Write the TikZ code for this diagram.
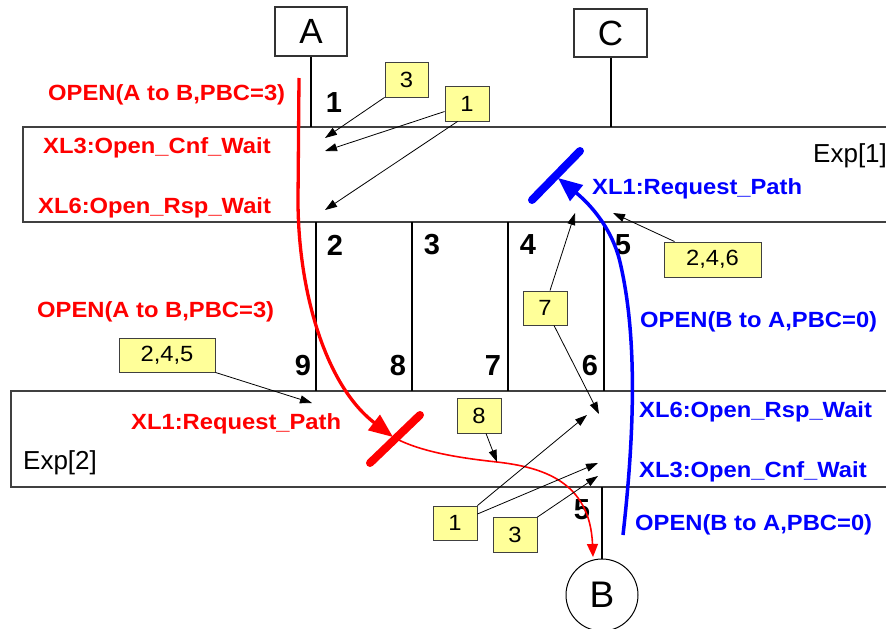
\documentclass[tikz,border=0pt]{standalone}
\usepackage{fontspec}
\setmainfont{Liberation Sans}
\newfontfamily\labfont{Liberation Sans}[FakeStretch=1.08]
\usetikzlibrary{arrows.meta,calc}
\definecolor{noteyellow}{HTML}{FFFF99}
\begin{document}
\begin{tikzpicture}[x=1pt,y=-1pt,
  actor/.style={draw=black!80, line width=1.3pt, fill=white, inner sep=0pt, font=\fontsize{35}{35}\selectfont},
  life/.style={line width=2pt, black},
  sepline/.style={line width=2pt, black},
  expline/.style={line width=1.4pt, black!75},
  lab/.style={inner sep=0pt, anchor=base west, font=\labfont\bfseries\fontsize{22}{24}\selectfont},
  redlab/.style={lab, text=red},
  bluelab/.style={lab, text=blue},
  num/.style={inner sep=0pt, font=\bfseries\fontsize{29}{30}\selectfont},
  explab/.style={inner sep=0pt, anchor=base west, font=\fontsize{26}{28}\selectfont},
  note/.style={draw=black!75, line width=0.9pt, fill=noteyellow, inner sep=0pt, minimum height=35pt, font=\labfont\fontsize{22}{24}\selectfont},
  ptr/.style={line width=0.8pt, black, -{Triangle[length=12pt,width=8pt]}},
  redthick/.style={red, line width=3.3pt},
  redthin/.style={red, line width=1.6pt},
  bluethick/.style={blue, line width=3.5pt},
  barline/.style={line width=8pt, line cap=round}
]
\useasboundingbox (0,0) rectangle (886,629);
\clip (0,0) rectangle (886,629);
\fill[white] (0,0) rectangle (886,629);

% expansion boxes
\draw[expline] (900,127) -- (23,127) -- (23,222) -- (900,222);
\draw[expline] (900,391) -- (11,391) -- (11,487) -- (900,487);
\foreach \x in {316,412,508,604} \draw[sepline] (\x,222) -- (\x,391);

% actors
\node[actor, minimum width=72pt, minimum height=49pt] (A) at (311,31.5) {A};
\node[actor, minimum width=73pt, minimum height=48pt] (C) at (610.5,33) {C};
\node[circle, draw, line width=1pt, minimum size=72pt, inner sep=0pt, font=\fontsize{37}{37}\selectfont] (B) at (602,595) {B};
\coordinate (Aend) at (311,127);
\coordinate (Cend) at (610.5,127);
\coordinate (Bend) at (602,487);
\draw[life] (A.south) -- (Aend);
\draw[life] (C.south) -- (Cend);
\draw[life] (B.north) -- (Bend);

% numbers
\node[num] (n1) at (334,103) {1};
\node[num] (n2) at (335,245) {2};
\node[num] (n3) at (432,245) {3};
\node[num] (n4) at (528,245) {4};
\node[num] (n5) at (623,245) {5};
\node[num] (n9) at (303,366) {9};
\node[num] (n8) at (398,366) {8};
\node[num] (n7) at (493,366) {7};
\node[num] (n6) at (590,366) {6};
\node[num] (n5b) at (582,510) {5};

% labels
\node[redlab] (ra) at (48,100) {OPEN(A to B,PBC=3)};
\node[redlab] (rb) at (43,153) {XL3:Open\_Cnf\_Wait};
\node[redlab] (rc) at (38,213) {XL6:Open\_Rsp\_Wait};
\node[redlab] (rd) at (37,317) {OPEN(A to B,PBC=3)};
\node[redlab] (re) at (131,429) {XL1:Request\_Path};
\node[bluelab] (ba) at (592,194) {XL1:Request\_Path};
\node[bluelab] (bb) at (640,327) {OPEN(B to A,PBC=0)};
\node[bluelab] (bc) at (639,417) {XL6:Open\_Rsp\_Wait};
\node[bluelab] (bd) at (639,477) {XL3:Open\_Cnf\_Wait};
\node[bluelab] (be) at (635,530) {OPEN(B to A,PBC=0)};
\node[explab] (e1) at (813,162) {Exp[1]};
\node[explab] (e2) at (23,469) {Exp[2]};

% message paths
\draw[redthick, -{Triangle[length=24pt,width=19pt]}] (299,78) -- (298,200) .. controls (298,290) and (325,385) .. (393,437);
\draw[redthin, -{Triangle[length=13pt,width=11pt]}] (393,437) .. controls (420,452) and (460,458) .. (497,462) .. controls (540,467) and (590,480) .. (593,557);
\draw[bluethick, -{Triangle[length=24pt,width=20pt]}] (623,535) .. controls (636,420) and (636,330) .. (620,262) .. controls (611,224) and (585,200) .. (558,178);
\draw[barline, red] (370,463) -- (420,415);
\draw[barline, blue] (532,200) -- (580,151);

% notes
\node[note, minimum width=43pt] (b3t) at (406.5,79.5) {3};
\node[note, minimum width=44pt] (b1t) at (467,103.5) {1};
\node[note, minimum width=97pt] (b246) at (712.5,259.5) {2,4,6};
\node[note, minimum width=44pt, minimum height=34pt] (b7) at (545,308) {7};
\node[note, minimum width=96pt, minimum height=34pt] (b245) at (167,355) {2,4,5};
\node[note, minimum width=44pt] (b8) at (479,415.5) {8};
\node[note, minimum width=44pt, minimum height=34pt] (b1b) at (455,523) {1};
\node[note, minimum width=44pt] (b3b) at (515,535) {3};

% pointer targets
\coordinate (t1) at (325,138);
\coordinate (t2) at (325,151);
\coordinate (t3) at (325,210);
\coordinate (t4) at (613,213);
\coordinate (t5) at (575,213);
\coordinate (t6) at (599,414);
\coordinate (t7) at (312,403);
\coordinate (t8) at (497,462);
\coordinate (t9) at (587,415);
\coordinate (t10) at (598,463);
\coordinate (t11) at (598,476);

\draw[ptr] (b3t.south west) -- (t1);
\draw[ptr] ([yshift=-8pt]b1t.west) -- (t2);
\draw[ptr] ([xshift=13pt]b1t.south west) -- (t3);
\draw[ptr] ([xshift=11pt]b246.north west) -- (t4);
\draw[ptr] ([xshift=5pt]b7.north) -- (t5);
\draw[ptr] ([xshift=9pt]b7.south) -- (t6);
\draw[ptr] (b245.south east) -- (t7);
\draw[ptr] ([xshift=7pt]b8.south) -- (t8);
\draw[ptr] (b1b.north east) -- (t9);
\draw[ptr] ([yshift=9pt]b1b.east) -- (t10);
\draw[ptr] (b3b.north east) -- (t11);
\end{tikzpicture}
\end{document}
